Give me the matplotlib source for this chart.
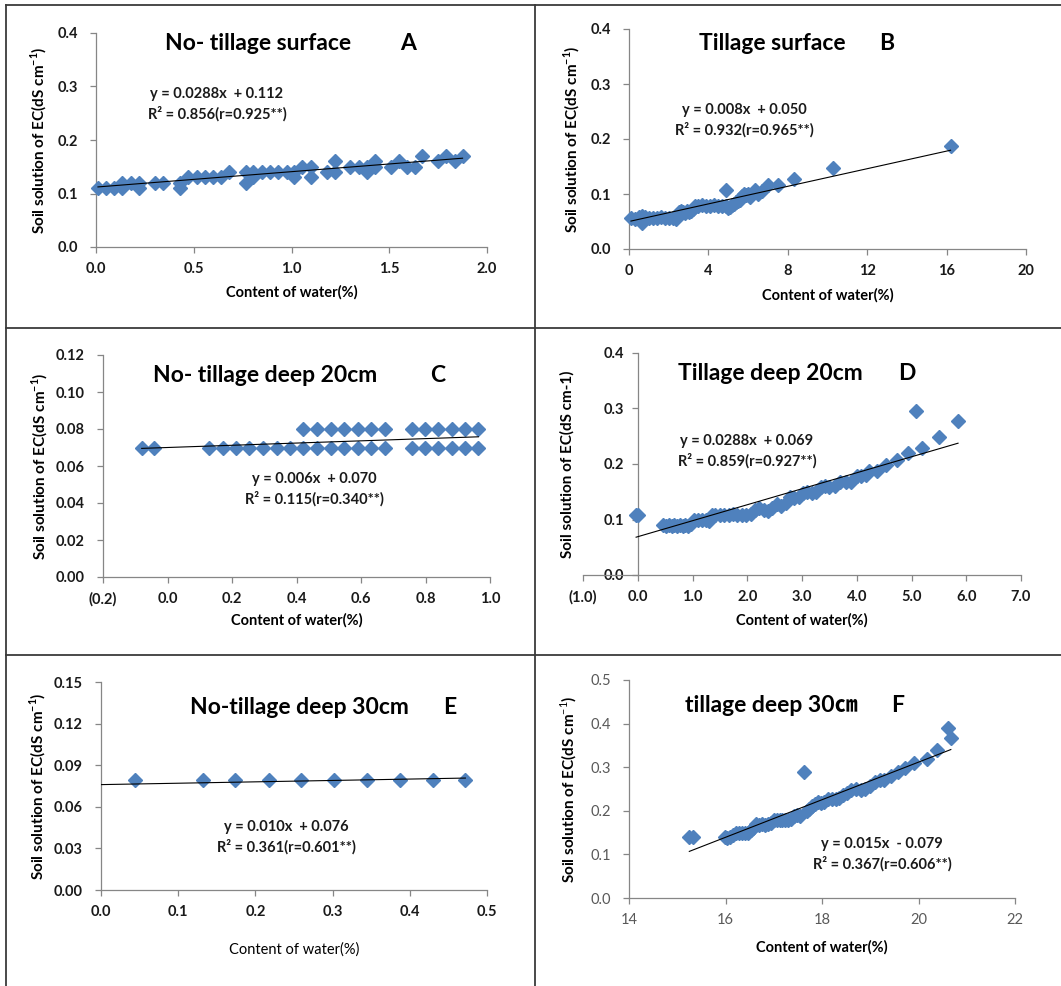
import matplotlib
matplotlib.use("Agg")
import matplotlib.pyplot as plt
from matplotlib.ticker import FuncFormatter, MultipleLocator
from matplotlib.lines import Line2D

plt.rcParams['font.family'] = ['Lato', 'DejaVu Sans']
plt.rcParams['mathtext.fontset'] = 'custom'
plt.rcParams['mathtext.rm'] = 'Lato'
plt.rcParams['mathtext.bf'] = 'Lato:bold'

W, H = 1061, 986

# ---- data ----
# A: no-tillage surface
a_x = [0.01, 0.05, 0.09, 0.135, 0.135, 0.18, 0.22, 0.22, 0.30, 0.345,
       0.43, 0.43, 0.47, 0.515, 0.555, 0.60, 0.64, 0.68, 0.765, 0.765,
       0.805, 0.805, 0.85, 0.89, 0.93, 0.975, 1.015, 1.015, 1.055, 1.10,
       1.10, 1.18, 1.22, 1.22, 1.30, 1.345, 1.385, 1.385, 1.425, 1.425,
       1.51, 1.55, 1.59, 1.63, 1.67, 1.75, 1.79, 1.835, 1.875]
a_y = [0.11, 0.11, 0.11, 0.12, 0.11, 0.12, 0.12, 0.11, 0.12, 0.12,
       0.12, 0.11, 0.13, 0.13, 0.13, 0.13, 0.13, 0.14, 0.14, 0.12,
       0.14, 0.13, 0.14, 0.14, 0.14, 0.14, 0.14, 0.13, 0.15, 0.15,
       0.13, 0.14, 0.16, 0.14, 0.15, 0.15, 0.15, 0.14, 0.16, 0.15,
       0.15, 0.16, 0.15, 0.15, 0.17, 0.16, 0.17, 0.16, 0.17]

# B: tillage surface
b_x = [0.1, 0.3, 0.5, 0.65, 0.65, 0.8, 1.0, 1.2, 1.4, 1.6,
       1.8, 2.0, 2.2, 2.35, 2.4, 2.5, 2.6, 2.7, 2.8, 2.9,
       3.0, 3.1, 3.2, 3.3, 3.5, 3.7, 3.9, 4.1, 4.3, 4.5,
       4.7, 4.9, 4.9, 5.0, 5.1, 5.2, 5.3, 5.4, 5.5, 5.6,
       5.7, 5.8, 5.9, 6.0, 6.1, 6.2, 6.35, 6.5, 6.7, 7.0,
       7.5, 8.3, 10.3, 16.2]
b_y = [0.057, 0.055, 0.058, 0.047, 0.06, 0.058, 0.057, 0.057, 0.057, 0.058,
       0.057, 0.057, 0.056, 0.055, 0.06, 0.068, 0.07, 0.068, 0.066, 0.07,
       0.068, 0.07, 0.072, 0.078, 0.079, 0.08, 0.078, 0.078, 0.08, 0.078,
       0.078, 0.107, 0.078, 0.075, 0.076, 0.08, 0.082, 0.085, 0.088, 0.09,
       0.096, 0.1, 0.098, 0.1, 0.095, 0.1, 0.107, 0.1, 0.106, 0.117,
       0.117, 0.128, 0.148, 0.188]

# C: no-tillage deep 20cm
c_x = [-0.08, -0.042, 0.13, 0.171, 0.212, 0.254, 0.297, 0.339, 0.38, 0.421,
       0.464, 0.506, 0.548, 0.59, 0.631, 0.674, 0.757, 0.798, 0.84, 0.881,
       0.922, 0.964,
       0.421, 0.464, 0.506, 0.548, 0.59, 0.631, 0.674, 0.757, 0.798, 0.84,
       0.881, 0.922, 0.964]
c_y = [0.07] * 22 + [0.08] * 13

# D: tillage deep 20cm
d_x = [-0.03, 0.0, 0.47, 0.52, 0.57, 0.62, 0.67, 0.72, 0.77, 0.82,
       0.87, 0.92, 0.97, 1.03, 1.1, 1.17, 1.24, 1.3, 1.36, 1.42,
       1.5, 1.58, 1.66, 1.74, 1.82, 1.9, 1.98, 2.06, 2.14, 2.22,
       2.3, 2.38, 2.46, 2.54, 2.62, 2.7, 2.78, 2.86, 2.94, 3.02,
       3.1, 3.18, 3.26, 3.34, 3.42, 3.5, 3.6, 3.7, 3.8, 3.9,
       4.0, 4.08, 4.16, 4.22, 4.37, 4.53, 4.73, 4.93, 5.08, 5.19,
       5.5, 5.85]
d_y = [0.108, 0.108, 0.09, 0.088, 0.09, 0.088, 0.09, 0.088, 0.09, 0.088,
       0.09, 0.088, 0.092, 0.1, 0.1, 0.1, 0.1, 0.098, 0.108, 0.108,
       0.108, 0.108, 0.108, 0.11, 0.108, 0.108, 0.108, 0.11, 0.117, 0.12,
       0.117, 0.115, 0.12, 0.128, 0.125, 0.13, 0.14, 0.138, 0.14, 0.148,
       0.15, 0.148, 0.15, 0.158, 0.16, 0.158, 0.16, 0.168, 0.168, 0.168,
       0.178, 0.178, 0.18, 0.188, 0.188, 0.198, 0.207, 0.219, 0.296, 0.229,
       0.248, 0.277]

# E: no-tillage deep 30cm
e_x = [0.044, 0.132, 0.174, 0.217, 0.259, 0.302, 0.344, 0.387, 0.43, 0.472]
e_y = [0.079] * 10

# F: tillage deep 30cm
f_x = [15.25, 15.33, 15.98, 16.04, 16.1, 16.16, 16.22, 16.28, 16.34, 16.4,
       16.46, 16.52, 16.58, 16.64, 16.7, 16.76, 16.82, 16.88, 16.94, 17.0,
       17.06, 17.12, 17.18, 17.24, 17.3, 17.36, 17.42, 17.48, 17.54, 17.63,
       17.68, 17.74, 17.8, 17.86, 17.92, 17.98, 18.05, 18.12, 18.2, 18.28,
       18.36, 18.44, 18.52, 18.6, 18.7, 18.8, 18.9, 19.0, 19.1, 19.2,
       19.28, 19.44, 19.58, 19.72, 19.91, 20.17, 20.39, 20.62, 20.67]
f_y = [0.14, 0.14, 0.14, 0.138, 0.14, 0.145, 0.15, 0.148, 0.15, 0.148,
       0.15, 0.155, 0.16, 0.17, 0.168, 0.17, 0.168, 0.17, 0.172, 0.178,
       0.18, 0.178, 0.178, 0.18, 0.178, 0.182, 0.188, 0.19, 0.188, 0.289,
       0.2, 0.205, 0.21, 0.215, 0.22, 0.218, 0.22, 0.228, 0.226, 0.228,
       0.23, 0.236, 0.24, 0.248, 0.25, 0.248, 0.25, 0.258, 0.265, 0.27,
       0.27, 0.28, 0.29, 0.299, 0.309, 0.319, 0.34, 0.39, 0.368]

xs = [a_x, b_x, c_x, d_x, e_x, f_x]
ys = [a_y, b_y, c_y, d_y, e_y, f_y]

# trend lines (slope, intercept as drawn; F's printed equation differs from its line)
trend_slope = [0.0288, 0.008, 0.006, 0.0288, 0.010, 0.0431]
trend_icpt = [0.112, 0.050, 0.070, 0.069, 0.076, -0.5504]
trend_from_zero = [False, False, False, False, True, False]

titles = ["No- tillage surface", "Tillage surface", "No- tillage deep 20cm",
          "Tillage deep 20cm", "No-tillage deep 30cm", "tillage deep 30\u339d"]
letters = ["A", "B", "C", "D", "E", "F"]
eq1 = ["y = 0.0288x  + 0.112", "y = 0.008x  + 0.050", "y = 0.006x  + 0.070",
       "y = 0.0288x  + 0.069", "y = 0.010x  + 0.076", "y = 0.015x  - 0.079"]
eq2 = ["R\u00b2 = 0.856(r=0.925**)", "R\u00b2 = 0.932(r=0.965**)",
       "R\u00b2 = 0.115(r=0.340**)", "R\u00b2 = 0.859(r=0.927**)",
       "R\u00b2 = 0.361(r=0.601**)", "R\u00b2 = 0.367(r=0.606**)"]
ylab_sup = r"Soil solution of EC(dS cm$^{\mathbf{-1}}$)"
ylabels = [ylab_sup, ylab_sup, ylab_sup, "Soil solution of EC(dS cm-1)",
           ylab_sup, r"Soil solution of EC(dS cm$^{-1}$)"]
xlabel = "Content of water(%)"

xlims = [(0, 2), (0, 20), (-0.2, 1.0), (-1, 7), (0, 0.5), (14, 22)]
xsteps = [0.5, 4, 0.2, 1, 0.1, 2]
xdec = [1, 0, 1, 1, 1, 0]
ylims = [(0, 0.4), (0, 0.4), (0, 0.12), (0, 0.4), (0, 0.15), (0, 0.5)]
ysteps = [0.1, 0.1, 0.02, 0.1, 0.03, 0.1]
ydec = [1, 1, 2, 1, 2, 1]

# ---- layout (pixels) ----
boxes = [(96, 33, 487, 247), (629, 29, 1026, 249), (103, 355, 490, 577),
         (583, 353, 1021, 575), (101, 682, 487, 890), (629, 680, 1015, 898)]
title_pos = [(258, 44), (772, 44), (265, 375), (770, 373), (299, 707), (771, 706)]
letter_pos = [(408, 44), (887, 44), (438, 375), (907, 373), (450, 707), (898, 706)]
eq_pos = [(217, 94), (744, 110), (314, 479), (747, 441), (286, 827), (882, 844)]
ylab_x = [39, 572, 40, 567, 38, 569]
xlab_y = [292, 295, 620, 620, 950, 947]

BLUE = '#4F81BD'
GREY = '#868686'

fig = plt.figure(figsize=(W / 100, H / 100), dpi=100)


def fx(px):
    return px / W


def fy(py):
    return 1 - py / H


def paren_fmt(dec):
    def f(v, pos):
        s = f"{abs(v):.{dec}f}"
        return f"({s})" if v < -1e-9 else s
    return FuncFormatter(f)


for i in range(6):
    x0, y0, x1, y1 = boxes[i]
    ax = fig.add_axes([fx(x0), fy(y1), (x1 - x0) / W, (y1 - y0) / H])
    ax.set_xlim(*xlims[i])
    ax.set_ylim(*ylims[i])
    for s in ['top', 'right']:
        ax.spines[s].set_visible(False)
    for s in ['left', 'bottom']:
        ax.spines[s].set_color(GREY)
        ax.spines[s].set_linewidth(0.9)
    if i == 3:
        ax.spines['left'].set_position(('data', 0))
    ax.xaxis.set_major_locator(MultipleLocator(xsteps[i]))
    ax.yaxis.set_major_locator(MultipleLocator(ysteps[i]))
    ax.xaxis.set_major_formatter(paren_fmt(xdec[i]))
    ax.yaxis.set_major_formatter(paren_fmt(ydec[i]))
    bold = i != 5
    ax.tick_params(direction='out', length=4, width=0.9, color=GREY,
                   labelsize=10.5, labelcolor='#1a1a1a' if bold else '#595959')
    ax.tick_params(axis='y', pad=9 if i != 3 else 6)
    ax.tick_params(axis='x', pad=7)
    for lab in ax.get_xticklabels() + ax.get_yticklabels():
        lab.set_fontweight('bold' if bold else 'normal')

    ax.plot(xs[i], ys[i], 'D', color=BLUE, ms=6.8, mec=BLUE, clip_on=False, zorder=3)
    tx0 = 0.0 if trend_from_zero[i] else min(xs[i])
    tx1 = max(xs[i])
    ax.plot([tx0, tx1], [trend_slope[i] * tx0 + trend_icpt[i],
                         trend_slope[i] * tx1 + trend_icpt[i]],
            color='black', lw=0.8, zorder=4)

    tfam = ['Lato', 'Noto Sans CJK SC', 'DejaVu Sans']
    fig.text(fx(title_pos[i][0]), fy(title_pos[i][1]), titles[i], fontsize=16.5,
             fontweight='bold', ha='center', va='center', family=tfam)
    fig.text(fx(letter_pos[i][0]), fy(letter_pos[i][1]), letters[i], fontsize=16.5,
             fontweight='bold', ha='center', va='center')
    ex, ey = eq_pos[i]
    fig.text(fx(ex), fy(ey), eq1[i], fontsize=10.5, fontweight='bold',
             ha='center', va='center', color='#1a1a1a')
    fig.text(fx(ex), fy(ey + 20), eq2[i], fontsize=10.5, fontweight='bold',
             ha='center', va='center', color='#1a1a1a')
    fig.text(fx(ylab_x[i]), fy((y0 + y1) / 2), ylabels[i], rotation=90,
             fontsize=11, fontweight='bold', ha='center', va='center')
    fig.text(fx((x0 + x1) / 2), fy(xlab_y[i]), xlabel, fontsize=10.5,
             fontweight='normal' if i == 4 else 'bold',
             ha='center', va='center')

# panel borders
line_kw = dict(transform=fig.transFigure, color='#3a3a3a', lw=1.3)
fig.add_artist(Line2D([fx(6), fx(6)], [fy(5), fy(986)], **line_kw))
fig.add_artist(Line2D([fx(535), fx(535)], [fy(5), fy(986)], **line_kw))
for yy in [5, 328, 655]:
    fig.add_artist(Line2D([fx(6), fx(1061)], [fy(yy), fy(yy)], **line_kw))

fig.savefig("out.png", dpi=100)
